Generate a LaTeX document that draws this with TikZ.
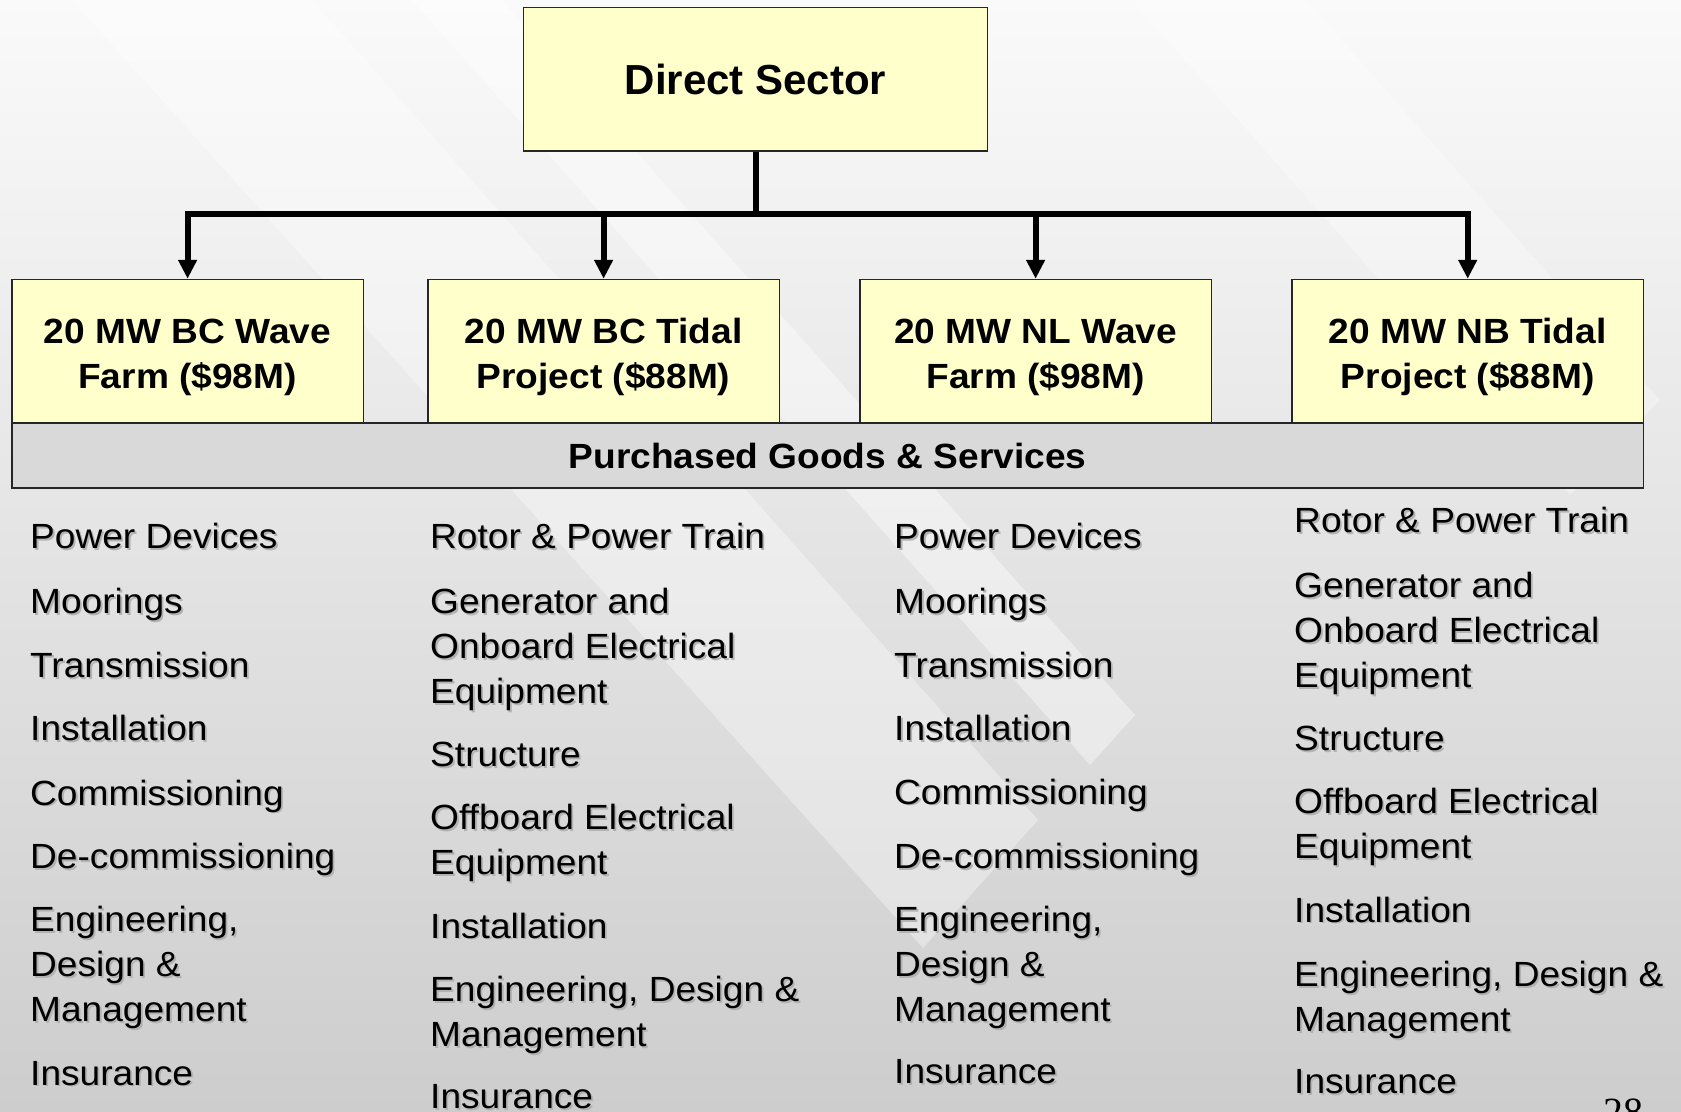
\documentclass[tikz,border=0pt]{standalone}
\usepackage{fontspec}
\setmainfont{Liberation Sans}
\newfontfamily\widefont[FakeStretch=1.06]{Liberation Sans}
\newfontfamily\pgserif{Liberation Serif}
\usetikzlibrary{arrows.meta}
\definecolor{boxyellow}{HTML}{FFFFCC}
\definecolor{bandgray}{HTML}{D9D9D9}
\definecolor{edgegray}{HTML}{262626}
\definecolor{bgtop}{HTML}{FAFAFA}
\definecolor{bgmid}{HTML}{E3E3E3}
\definecolor{bgbot}{HTML}{CDCDCD}
\tikzset{
  topbox/.style={draw=edgegray, line width=1.5pt, fill=boxyellow, minimum width=464pt,
    minimum height=143.5pt, inner sep=0pt, font=\bfseries\fontsize{42}{50}\selectfont},
  projbox/.style={draw=edgegray, line width=1.5pt, fill=boxyellow, minimum width=351.6pt,
    minimum height=143.5pt, inner sep=0pt, align=center,
    font=\widefont\bfseries\fontsize{35}{45}\selectfont},
  bandbox/.style={draw=edgegray, line width=1.5pt, fill=bandgray, minimum width=1631.7pt,
    minimum height=65pt, inner sep=0pt, font=\widefont\bfseries\fontsize{35}{45}\selectfont},
  itemtxt/.style={anchor=base west, inner sep=0pt,
    font=\widefont\fontsize{35}{45}\selectfont},
  itemshadow/.style={itemtxt, text=black!30},
  connline/.style={line width=6pt, draw=black},
  branch/.style={connline, -{Triangle[width=18pt,length=19pt]}},
  lightband/.style={fill=white, draw=none},
}
\newcommand\gsitem[4]{%
  \node[itemshadow] (#1s) at (#2+1.8,#3+1.8) {#4};
  \node[itemtxt] (#1) at (#2,#3) {#4};}
\newcommand\toprule{\rule{0pt}{36pt}}
\begin{document}
\begin{tikzpicture}[x=1pt,y=-1pt]
  \useasboundingbox (0,0) rectangle (1681,1111);
  \clip (0,0) rectangle (1681,1111);
  % background
  \shade[top color=bgtop, middle color=bgmid, bottom color=bgbot] (0,0) rectangle (1681,1111);
  \fill[lightband, opacity=0.35] (72,0) -- (312,0) -- (1038,820) -- (923,948) -- cycle;
  \fill[lightband, opacity=0.40] (412,0) -- (502,0) -- (1135,715) -- (1090,765) -- cycle;
  \fill[lightband, opacity=0.30] (1132,0) -- (1306,0) -- (1660,400) -- (1570,495) -- cycle;

  % boxes
  \node[topbox] (top) at (755.5,79.25) {Direct Sector};
  \node[bandbox] (band) at (827.6,455.5) {Purchased Goods \& Services};
  \node[projbox] (b1) at (187.6,351.25) {\toprule 20 MW BC Wave\\Farm (\$98M)};
  \node[projbox] (b2) at (603.6,351.25) {\toprule 20 MW BC Tidal\\Project (\$88M)};
  \node[projbox] (b3) at (1035.6,351.25) {\toprule 20 MW NL Wave\\Farm (\$98M)};
  \node[projbox] (b4) at (1467.7,351.25) {\toprule 20 MW NB Tidal\\Project (\$88M)};

  % connectors
  \coordinate (hub) at (755.5,214);
  \draw[connline] (top.south) -- (hub);
  \draw[branch] (hub) -| (b1.north);
  \draw[branch] (hub) -| (b2.north);
  \draw[branch] (hub) -| (b3.north);
  \draw[branch] (hub) -| (b4.north);

  % column 1
  \gsitem{a1}{30}{548.9}{Power Devices}
  \gsitem{a2}{30}{613.3}{Moorings}
  \gsitem{a3}{30}{677.6}{Transmission}
  \gsitem{a4}{30}{740.8}{Installation}
  \gsitem{a5}{30}{805.1}{Commissioning}
  \gsitem{a6}{30}{868.4}{De-commissioning}
  \gsitem{a7}{30}{931.7}{\vtop{\hbox{Engineering,}\hbox{Design \&}\hbox{Management}}}
  \gsitem{a8}{30}{1085}{Insurance}

  % column 2
  \gsitem{c1}{430}{548.9}{Rotor \& Power Train}
  \gsitem{c2}{430}{613.3}{\vtop{\hbox{Generator and}\hbox{Onboard Electrical}\hbox{Equipment}}}
  \gsitem{c3}{430}{766.6}{Structure}
  \gsitem{c4}{430}{829.8}{\vtop{\hbox{Offboard Electrical}\hbox{Equipment}}}
  \gsitem{c5}{430}{938.1}{Installation}
  \gsitem{c6}{430}{1001.3}{\vtop{\hbox{Engineering, Design \&}\hbox{Management}}}
  \gsitem{c7}{430}{1108.5}{Insurance}

  % column 3
  \gsitem{d1}{894}{548.9}{Power Devices}
  \gsitem{d2}{894}{613.3}{Moorings}
  \gsitem{d3}{894}{677.6}{Transmission}
  \gsitem{d4}{894}{740.8}{Installation}
  \gsitem{d5}{894}{804}{Commissioning}
  \gsitem{d6}{894}{868.4}{De-commissioning}
  \gsitem{d7}{894}{931.7}{\vtop{\hbox{Engineering,}\hbox{Design \&}\hbox{Management}}}
  \gsitem{d8}{894}{1083.9}{Insurance}

  % column 4
  \gsitem{e1}{1294}{532.8}{Rotor \& Power Train}
  \gsitem{e2}{1294}{597.2}{\vtop{\hbox{Generator and}\hbox{Onboard Electrical}\hbox{Equipment}}}
  \gsitem{e3}{1294}{750.5}{Structure}
  \gsitem{e4}{1294}{813.7}{\vtop{\hbox{Offboard Electrical}\hbox{Equipment}}}
  \gsitem{e5}{1294}{922}{Installation}
  \gsitem{e6}{1294}{986.3}{\vtop{\hbox{Engineering, Design \&}\hbox{Management}}}
  \gsitem{e7}{1294}{1093.5}{Insurance}

  % page number
  \node[anchor=base west, inner sep=0pt, font=\pgserif\fontsize{40}{40}\selectfont] (pg) at (1603,1125) {28};
\end{tikzpicture}
\end{document}
